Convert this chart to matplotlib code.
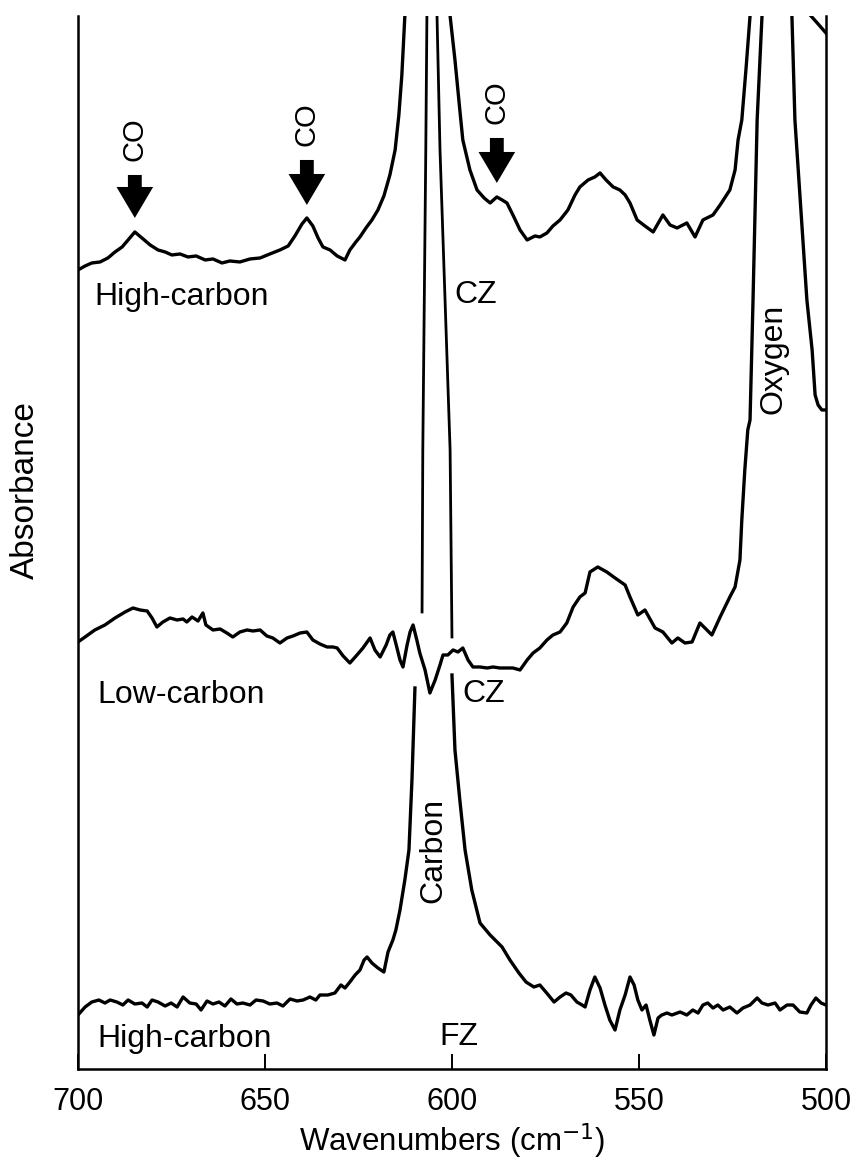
import numpy as np
import matplotlib
matplotlib.use('Agg')
import matplotlib.pyplot as plt
from matplotlib.patches import FancyArrow

plt.rcParams['font.family'] = ['Liberation Sans', 'DejaVu Sans']

nan = np.nan

# High-carbon CZ spectrum (top trace); NaN breaks where bands run off scale
hc_cz_wn = [700.0, 698.1, 696.3, 694.1, 692.0, 690.1, 688.2, 686.6, 684.8, 682.9,
            680.7, 678.6, 676.7, 674.9, 672.7, 670.6, 668.4, 666.0, 663.9, 661.5,
            659.4, 656.7, 654.0, 651.3, 648.7, 646.0, 643.8, 642.0, 640.1, 638.8,
            637.2, 635.8, 634.5, 632.6, 630.7, 628.6, 627.3, 625.7, 624.6, 623.0,
            621.4, 619.8, 618.2, 616.6, 615.2, 614.2, 613.4, 612.6, nan,
            600.5, 599.2, 597.9, 597.1, 595.2, 593.3, 591.4, 589.8, 588.0, 586.6,
            585.3, 583.7, 581.8, 579.9, 577.8, 576.5, 574.6, 573.0, 571.1, 569.0,
            567.1, 565.8, 563.6, 561.8, 560.4, 558.8, 556.9, 555.1, 553.7, 552.4,
            550.5, 548.4, 546.2, 543.6, 541.7, 539.8, 537.2, 535.0, 532.9, 530.2,
            528.3, 525.7, 524.3, 523.5, 522.5, 521.4, 520.3, nan,
            504.0, 502.1, 500.0]
hc_cz_abs = [7.99, 8.03, 8.06, 8.07, 8.11, 8.17, 8.22, 8.29, 8.37, 8.31,
             8.24, 8.19, 8.17, 8.14, 8.15, 8.12, 8.13, 8.09, 8.10, 8.06,
             8.08, 8.07, 8.10, 8.11, 8.15, 8.19, 8.23, 8.33, 8.45, 8.51,
             8.43, 8.31, 8.22, 8.19, 8.13, 8.09, 8.19, 8.27, 8.32, 8.41,
             8.49, 8.59, 8.73, 8.94, 9.19, 9.54, 9.94, 10.53, nan,
             10.53, 10.09, 9.59, 9.29, 8.99, 8.79, 8.71, 8.66, 8.72, 8.69,
             8.66, 8.54, 8.39, 8.29, 8.33, 8.32, 8.36, 8.43, 8.49, 8.59,
             8.74, 8.82, 8.89, 8.92, 8.96, 8.89, 8.82, 8.79, 8.74, 8.66,
             8.49, 8.43, 8.37, 8.54, 8.44, 8.41, 8.46, 8.32, 8.49, 8.54,
             8.64, 8.79, 8.99, 9.29, 9.49, 9.99, 10.53, nan,
             10.53, 10.45, 10.36]

# Low-carbon CZ spectrum (middle trace)
lc_cz_wn = [700.0, 698.1, 695.5, 692.8, 690.1, 687.4, 685.3, 683.4, 681.5, 680.2,
            678.9, 677.3, 675.4, 673.5, 671.9, 670.9, 669.5, 667.9, 666.6, 665.8,
            663.9, 662.0, 660.2, 658.6, 656.7, 654.8, 653.2, 651.3, 649.5, 647.9,
            646.0, 644.1, 642.5, 640.6, 638.8, 637.2, 635.3, 633.4, 631.8, 630.7,
            629.1, 627.3, 625.4, 623.8, 621.9, 620.6, 619.2, 617.6, 616.6, 615.8,
            614.7, 613.9, 613.1, 612.0, 611.2, 610.4, 609.4, 608.6, 607.2, 605.9,
            604.5, 603.2, 602.4, 601.1, 599.7, 598.4, 597.1, 595.7, 594.4, 592.5,
            590.6, 589.0, 587.2, 585.3, 583.7, 581.8, 579.9, 578.3, 576.5, 574.6,
            573.0, 571.1, 569.3, 567.6, 565.8, 564.4, 563.1, 561.0, 558.6, 556.4,
            553.7, 552.4, 550.3, 548.4, 545.7, 543.6, 541.2, 539.6, 537.7, 535.8,
            533.7, 530.5, 528.3, 525.7, 524.3, 523.0, 522.5, 521.7, 520.9, 520.3,
            519.5, 518.4, 517.1, nan,
            509.1, 508.3, 505.1, 503.7, 502.9, 502.1, 501.1, 500.0]
lc_cz_abs = [4.27, 4.32, 4.39, 4.44, 4.51, 4.57, 4.61, 4.59, 4.58, 4.51,
             4.42, 4.47, 4.51, 4.49, 4.50, 4.47, 4.52, 4.48, 4.56, 4.44,
             4.39, 4.40, 4.36, 4.32, 4.37, 4.39, 4.38, 4.39, 4.33, 4.31,
             4.26, 4.31, 4.33, 4.36, 4.37, 4.29, 4.25, 4.22, 4.22, 4.21,
             4.13, 4.06, 4.14, 4.21, 4.31, 4.19, 4.12, 4.24, 4.34, 4.37,
             4.21, 4.09, 4.02, 4.24, 4.37, 4.44, 4.29, 4.16, 3.99, 3.76,
             3.89, 4.04, 4.14, 4.14, 4.19, 4.17, 4.21, 4.09, 4.02, 4.02,
             4.01, 4.02, 4.01, 4.01, 4.01, 3.99, 4.09, 4.16, 4.21, 4.29,
             4.34, 4.37, 4.46, 4.62, 4.72, 4.76, 4.97, 5.02, 4.97, 4.91,
             4.84, 4.72, 4.54, 4.59, 4.41, 4.37, 4.26, 4.31, 4.26, 4.27,
             4.46, 4.34, 4.52, 4.72, 4.82, 5.09, 5.49, 5.99, 6.39, 6.49,
             7.69, 9.49, 10.53, nan,
             10.53, 9.49, 7.69, 7.19, 6.74, 6.64, 6.59, 6.59]

# carbon band of the low-carbon CZ sample
lc_band_wn = [608.0, 607.8, 607.0, 606.7, nan, 604.0, 603.2, 600.5, 600.0]
lc_band_abs = [4.57, 6.19, 9.19, 10.53, nan, 10.53, 9.19, 6.19, 4.32]

# High-carbon FZ spectrum (bottom trace)
fz_wn = [700.0, 698.1, 696.3, 694.4, 692.8, 691.4, 689.6, 688.0, 686.6, 684.8,
         682.9, 681.5, 680.2, 678.6, 676.7, 675.1, 673.5, 671.9, 670.1, 668.4,
         667.1, 665.5, 663.9, 662.3, 660.7, 659.1, 657.5, 655.9, 654.0, 652.4,
         650.5, 648.7, 646.8, 645.2, 643.3, 641.4, 639.8, 638.0, 636.4, 635.3,
         633.2, 631.3, 629.7, 628.6, 627.3, 625.9, 624.6, 623.5, 622.7, 621.4,
         619.8, 618.2, 617.1, 615.8, 615.0, 613.9, 612.6, 611.5, 610.7, 609.9, nan,
         600.0, 599.2, 597.9, 596.5, 594.7, 592.5, 589.8, 586.6, 584.5, 582.1,
         580.2, 578.1, 576.5, 574.9, 572.7, 571.1, 569.5, 568.2, 566.6, 565.2,
         564.4, 563.1, 561.8, 560.4, 559.1, 557.8, 556.4, 555.1, 553.7, 552.4,
         551.3, 550.3, 549.2, 548.1, 547.1, 546.0, 544.9, 543.9, 542.5, 541.2,
         539.0, 537.2, 535.6, 534.2, 532.9, 531.6, 530.2, 528.9, 527.5, 525.7,
         523.8, 522.2, 520.3, 518.4, 517.1, 515.5, 513.6, 512.3, 510.4, 508.8,
         507.0, 505.1, 504.0, 502.7, 501.3, 500.0]
fz_abs = [0.54, 0.62, 0.67, 0.69, 0.66, 0.69, 0.67, 0.64, 0.69, 0.65,
          0.66, 0.62, 0.69, 0.67, 0.63, 0.66, 0.62, 0.72, 0.66, 0.65,
          0.59, 0.68, 0.65, 0.67, 0.63, 0.70, 0.65, 0.66, 0.64, 0.69,
          0.68, 0.65, 0.66, 0.63, 0.70, 0.68, 0.69, 0.72, 0.69, 0.74,
          0.74, 0.76, 0.84, 0.81, 0.87, 0.94, 0.99, 1.09, 1.12, 1.06,
          1.01, 0.97, 1.17, 1.29, 1.39, 1.59, 1.89, 2.19, 2.89, 3.81, nan,
          3.94, 3.19, 2.69, 2.19, 1.79, 1.46, 1.34, 1.22, 1.09, 0.96,
          0.87, 0.82, 0.84, 0.77, 0.67, 0.72, 0.76, 0.74, 0.67, 0.64,
          0.62, 0.79, 0.92, 0.81, 0.64, 0.49, 0.39, 0.59, 0.74, 0.92,
          0.84, 0.69, 0.59, 0.64, 0.49, 0.34, 0.51, 0.54, 0.56, 0.54,
          0.57, 0.54, 0.59, 0.56, 0.64, 0.66, 0.61, 0.64, 0.59, 0.62,
          0.56, 0.61, 0.64, 0.71, 0.66, 0.64, 0.66, 0.59, 0.64, 0.64,
          0.57, 0.56, 0.64, 0.71, 0.66, 0.64]

# CO band markers: wavenumber, arrow tip, arrow tail
co_wn = [684.8, 638.8, 588.0]
co_tip = [8.51, 8.64, 8.86]
co_tail = [8.94, 9.09, 9.31]

fig = plt.figure(figsize=(8.56, 11.65), dpi=100)
ax = fig.add_axes([0.0911, 0.0824, 0.8738, 0.9039])

lw = 2.4
ax.plot(hc_cz_wn, hc_cz_abs, color='black', lw=lw)
ax.plot(lc_cz_wn, lc_cz_abs, color='black', lw=lw)
ax.plot(lc_band_wn, lc_band_abs, color='black', lw=2.0)
ax.plot(fz_wn, fz_abs, color='black', lw=lw)

ax.set_xlim(700, 500)
ax.set_ylim(0, 10.53)

for w, tip, tail in zip(co_wn, co_tip, co_tail):
    ax.add_patch(FancyArrow(w, tail, 0, tip - tail, width=3.7, head_width=9.8,
                            head_length=0.31, length_includes_head=True,
                            color='black', lw=0))
    ax.text(w, tail + 0.36, 'CO', rotation=90, ha='center', va='center', fontsize=21)

fs = 23
ax.text(695.5, 7.72, 'High-carbon', ha='left', va='center', fontsize=fs)
ax.text(599.4, 7.74, 'CZ', ha='left', va='center', fontsize=fs)
ax.text(694.7, 3.74, 'Low-carbon', ha='left', va='center', fontsize=fs)
ax.text(597.3, 3.75, 'CZ', ha='left', va='center', fontsize=fs)
ax.text(694.7, 0.30, 'High-carbon', ha='left', va='center', fontsize=fs)
ax.text(598.1, 0.32, 'FZ', ha='center', va='center', fontsize=fs)
ax.text(605.1, 2.19, 'Carbon', rotation=90, ha='center', va='center', fontsize=fs)
ax.text(513.9, 7.10, 'Oxygen', rotation=90, ha='center', va='center', fontsize=fs)

ax.spines['top'].set_visible(False)
for s in ['left', 'right', 'bottom']:
    ax.spines[s].set_linewidth(1.8)

ax.set_xticks([700, 650, 600, 550, 500])
ax.set_yticks([])
ax.tick_params(axis='x', direction='in', length=11, width=1.4, pad=13, labelsize=22)

ax.set_xlabel('Wavenumbers (cm$^{-1}$)', fontsize=22.5)
ax.xaxis.set_label_coords(0.5, -0.05)
ax.set_ylabel('Absorbance', fontsize=24)
ax.yaxis.set_label_coords(-0.05, 0.55)

fig.savefig('out.png', dpi=100)
